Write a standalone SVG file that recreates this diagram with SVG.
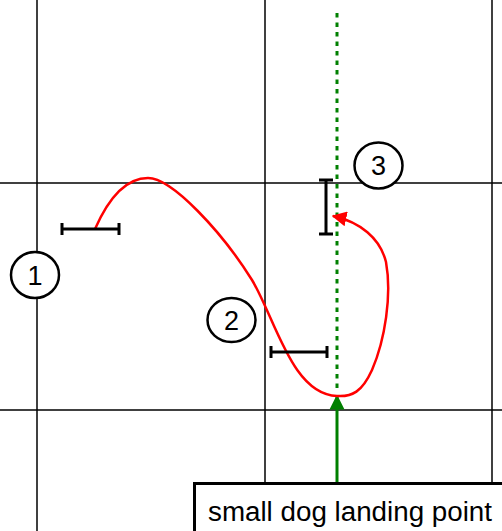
<svg xmlns="http://www.w3.org/2000/svg" width="502" height="531" viewBox="0 0 502 531">
<style>
.grid{stroke:#000;stroke-width:1.5;fill:none}
.bar{stroke:#000;stroke-width:3;fill:none}
.circ{fill:#fff;stroke:#000;stroke-width:2.5}
.num{font-family:"Liberation Sans",Arial,sans-serif;font-size:27px;fill:#000;text-anchor:middle}
.lbl{font-family:"Liberation Sans",Arial,sans-serif;font-size:27px;fill:#000}
</style>
<defs>
<marker id="ar" viewBox="0 0 10 10" refX="9" refY="5" markerWidth="6" markerHeight="6" markerUnits="strokeWidth" orient="auto"><path d="M0,0 L10,5 L0,10 z" fill="#f00"/></marker>
<marker id="ag" viewBox="0 0 10 10" refX="9" refY="5" markerWidth="5" markerHeight="6" markerUnits="strokeWidth" orient="auto"><path d="M0,0 L10,5 L0,10 z" fill="#008000"/></marker>
</defs>
<rect width="502" height="531" fill="#fff"/>
<g id="grid">
<line class="grid" x1="37" y1="0" x2="37" y2="531"/>
<line class="grid" x1="265" y1="0" x2="265" y2="531"/>
<line class="grid" x1="492" y1="0" x2="492" y2="531"/>
<line class="grid" x1="0" y1="183" x2="502" y2="183"/>
<line class="grid" x1="0" y1="410" x2="502" y2="410"/>
</g>
<g id="connectors">
<line x1="337" y1="13" x2="337" y2="390" stroke="#008000" stroke-width="3" stroke-dasharray="4.5 5"/>
<line x1="337" y1="483" x2="337" y2="396" stroke="#008000" stroke-width="3" marker-end="url(#ag)"/>
<path d="M95,229 C110,195 128,178 148,178 C172,178 222,232 252,280 C275,318 292,395 337,396 C352,397 362,392 372,370 C385,340 392,295 386,262 C380,238 360,222 333,216" fill="none" stroke="#f00" stroke-width="2.5" marker-end="url(#ar)"/>
</g>
<g id="bar1"><path class="bar" d="M62,229 H119 M62,223 V235 M119,223 V235"/></g>
<g id="bar2"><path class="bar" d="M271,352 H327 M271,346 V358 M327,346 V358"/></g>
<g id="bar3"><path class="bar" d="M326,180 V234 M319,180 H333 M319,234 H333"/></g>
<g id="n1"><ellipse class="circ" cx="35" cy="275" rx="24" ry="23"/><text class="num" x="35" y="284.5">1</text></g>
<g id="n2"><ellipse class="circ" cx="231.5" cy="320" rx="24" ry="22"/><text class="num" x="231.5" y="329.5">2</text></g>
<g id="n3"><ellipse class="circ" cx="378.5" cy="165.5" rx="24" ry="23"/><text class="num" x="378.5" y="175">3</text></g>
<g id="label"><rect x="194.5" y="483.5" width="320" height="60" fill="#fff" stroke="#000" stroke-width="3"/><text class="lbl" x="208" y="521" textLength="284" lengthAdjust="spacingAndGlyphs">small dog landing point</text></g>
</svg>
